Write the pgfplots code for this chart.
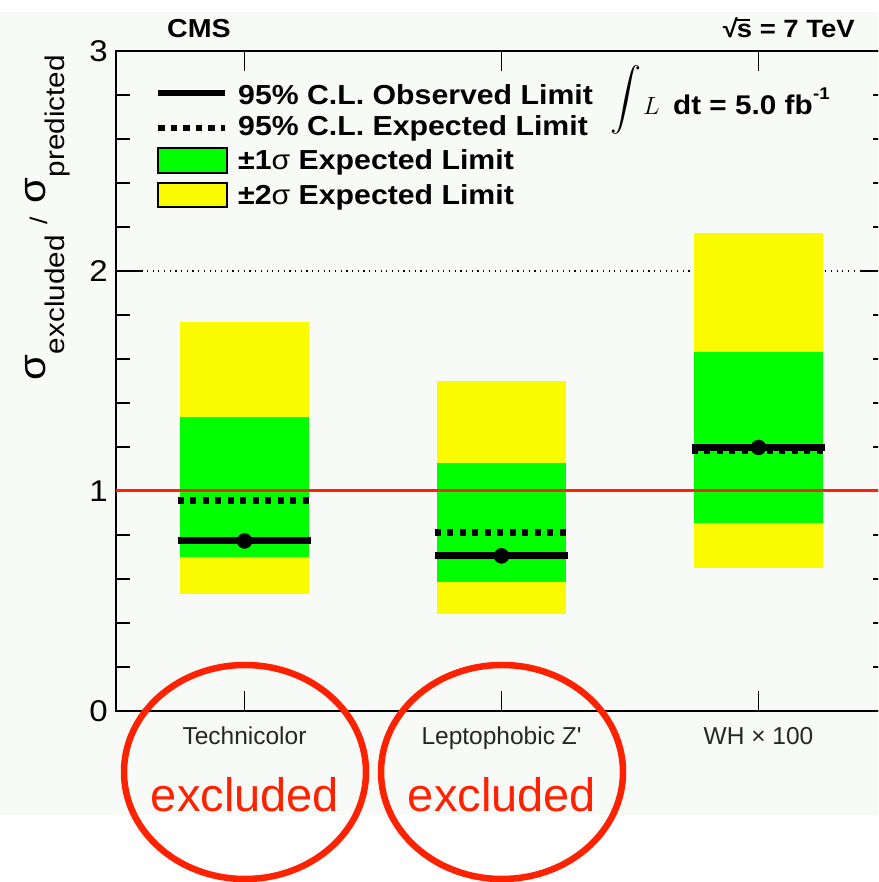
\documentclass[border=0pt]{standalone}
\usepackage{fontspec}
\setmainfont{Liberation Sans}
\newfontfamily\wide{Liberation Sans}[FakeStretch=1.1]
\newfontfamily\lab{Liberation Sans}
\usepackage{pgfplots}
\pgfplotsset{compat=1.18}
\definecolor{cmsgreen}{RGB}{0,255,0}
\definecolor{cmsyellow}{RGB}{250,250,0}
\definecolor{cmsred}{RGB}{255,34,0}
\definecolor{bgc}{RGB}{248,250,248}
\begin{document}
\begin{tikzpicture}[x=1pt,y=1pt]
\useasboundingbox (0,0) rectangle (878,882);
\clip (0,0) rectangle (878,882);
\fill[bgc] (0,67) rectangle (878,870);
\begin{axis}[
  at={(116pt,171pt)}, anchor=south west,
  scale only axis, width=771pt, height=660pt,
  xmin=-0.5, xmax=2.5, ymin=0, ymax=3,
  xtick={0,1,2},
  xticklabels={Technicolor, Leptophobic Z', WH × 100},
  ytick={0,1,2,3}, minor y tick num=4,
  axis line style={line width=2pt},
  major tick length=27pt, minor tick length=14pt,
  tick style={black, line width=1.6pt},
  xtick style={/pgfplots/major tick length=20pt},
  /pgf/number format/assume math mode=true,
  yticklabel style={font=\wide\fontsize{30}{30}\selectfont, inner sep=0pt, xshift=-8pt},
  xticklabel style={font=\lab\fontsize{24.5}{24.5}\selectfont, inner sep=0pt, yshift=-16pt, text=black!85},
  clip=false,
]
% dotted reference line at 2
\addplot[black, line width=1.2pt, dash pattern=on 1.2pt off 4.5pt] coordinates {(-0.38,2) (2.39,2)};
% Technicolor
\addplot[fill=cmsyellow, draw=none] coordinates {(-0.25,0.530) (0.25,0.530) (0.25,1.768) (-0.25,1.768)} -- cycle;
\addplot[fill=cmsgreen, draw=none] coordinates {(-0.25,0.698) (0.25,0.698) (0.25,1.335) (-0.25,1.335)} -- cycle;
% Leptophobic Z'
\addplot[fill=cmsyellow, draw=none] coordinates {(0.75,0.439) (1.25,0.439) (1.25,1.502) (0.75,1.502)} -- cycle;
\addplot[fill=cmsgreen, draw=none] coordinates {(0.75,0.588) (1.25,0.588) (1.25,1.127) (0.75,1.127)} -- cycle;
% WH x 100
\addplot[fill=cmsyellow, draw=none] coordinates {(1.75,0.648) (2.25,0.648) (2.25,2.173) (1.75,2.173)} -- cycle;
\addplot[fill=cmsgreen, draw=none] coordinates {(1.75,0.854) (2.25,0.854) (2.25,1.631) (1.75,1.631)} -- cycle;
% red line at 1
\addplot[cmsred, line width=3pt] coordinates {(-0.5,1) (2.5,1)};
% expected limits
\addplot[black, line width=7pt, dash pattern=on 6pt off 6.5pt] coordinates {(-0.26,0.955) (0.26,0.955)};
\addplot[black, line width=7pt, dash pattern=on 6pt off 6.5pt] coordinates {(0.74,0.810) (1.26,0.810)};
\addplot[black, line width=7pt, dash pattern=on 6pt off 6.5pt] coordinates {(1.74,1.183) (2.26,1.183)};
% observed limits
\addplot[black, line width=7pt] coordinates {(-0.26,0.773) (0.26,0.773)};
\addplot[black, line width=7pt] coordinates {(0.74,0.705) (1.26,0.705)};
\addplot[black, line width=7pt] coordinates {(1.74,1.198) (2.26,1.198)};
\addplot[only marks, mark=*, mark size=7.5pt, black] coordinates {(0,0.773) (1,0.705) (2,1.198)};
\end{axis}
% y label
\node[rotate=90, anchor=base, inner sep=0pt] at (45,664) {\wide\fontsize{38}{38}\selectfont σ\kern1pt\raisebox{-19pt}{\fontsize{27}{27}\selectfont excluded}\hspace{11pt}\raisebox{-2pt}{\fontsize{24}{24}\selectfont /}\hspace{13pt}σ\kern1pt\raisebox{-19pt}{\fontsize{27}{27}\selectfont predicted}};
% top texts
\node[anchor=base west, inner sep=0pt] at (167,844) {\wide\bfseries\fontsize{26}{26}\selectfont CMS};
\node[anchor=base east, inner sep=0pt] at (855,844) {\wide\bfseries\fontsize{25}{25}\selectfont √\kern-1pt\rlap{\rule[17pt]{13pt}{1.6pt}}s = 7 TeV};
% luminosity
\node[anchor=center, inner sep=0pt] at (626,782) {\scalebox{3.1}{$\displaystyle\int$}};
\node[anchor=base west, inner sep=0pt] at (643,767) {\fontsize{26}{26}\selectfont$L$};
\node[anchor=base west, inner sep=0pt] at (673,767) {\wide\bfseries\fontsize{27}{27}\selectfont dt = 5.0 fb};
\node[anchor=base west, inner sep=0pt] at (813,782) {\wide\bfseries\fontsize{17}{17}\selectfont -1};
% legend
\draw[black, line width=6pt] (158,788.7) -- (225,788.7);
\node[anchor=base west, inner sep=0pt] at (238,777) {\wide\bfseries\fontsize{27.5}{27.5}\selectfont 95\% C.L. Observed Limit};
\draw[black, line width=6pt, dash pattern=on 6.5pt off 6pt] (158,754) -- (225,754);
\node[anchor=base west, inner sep=0pt] at (238,746) {\wide\bfseries\fontsize{27.5}{27.5}\selectfont 95\% C.L. Expected Limit};
\draw[black, line width=1.5pt, fill=cmsgreen] (158,734) rectangle (227,709);
\node[anchor=base west, inner sep=0pt] at (238,712) {\wide\bfseries\fontsize{27.5}{27.5}\selectfont ±1{\mdseries σ} Expected Limit};
\draw[black, line width=1.5pt, fill=cmsyellow] (158,699) rectangle (227,675);
\node[anchor=base west, inner sep=0pt] at (238,677) {\wide\bfseries\fontsize{27.5}{27.5}\selectfont ±2{\mdseries σ} Expected Limit};
% excluded annotations
\draw[cmsred, line width=6.5pt] (245,110) ellipse [x radius=121, y radius=107];
\draw[cmsred, line width=6.5pt] (502,110) ellipse [x radius=121, y radius=107];
\node[anchor=base, inner sep=0pt, text=cmsred] at (245,70) {\fontsize{47}{47}\selectfont excluded};
\node[anchor=base, inner sep=0pt, text=cmsred] at (502,70) {\fontsize{47}{47}\selectfont excluded};
\end{tikzpicture}
\end{document}
